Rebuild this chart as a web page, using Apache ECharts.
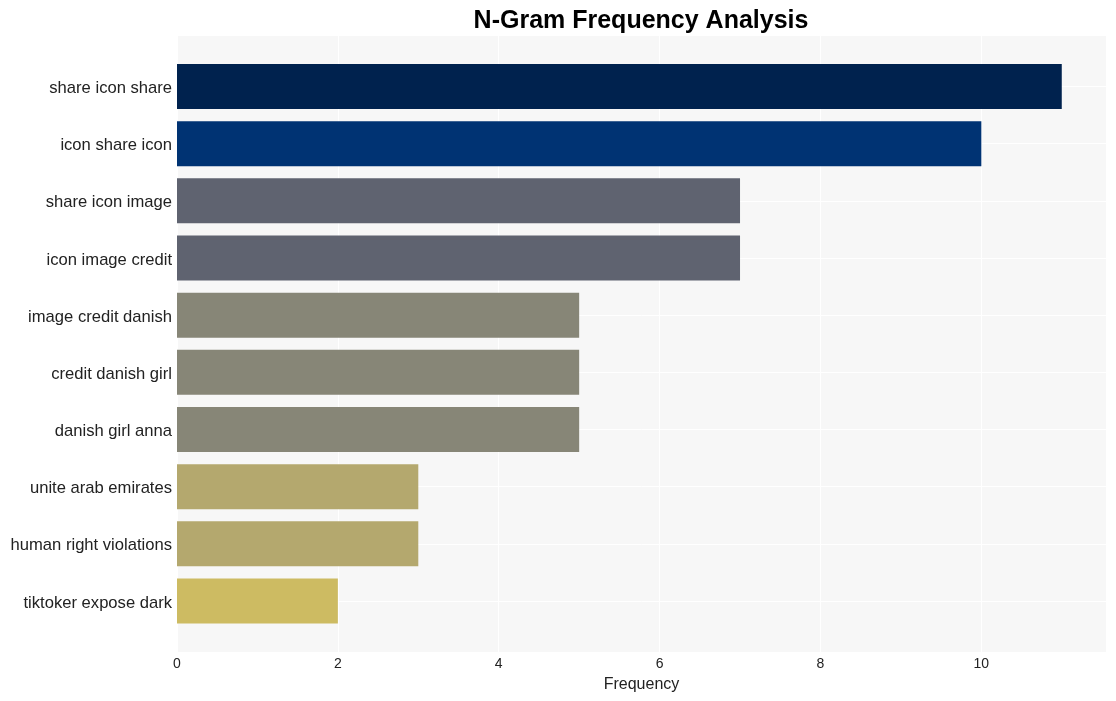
<!DOCTYPE html>
<html>
<head>
<meta charset="utf-8">
<script src="https://cdn.jsdelivr.net/npm/echarts@6/dist/echarts.min.js"></script>
<style>html,body{margin:0;padding:0;background:#fff}#c{width:1116px;height:701px}</style>
</head>
<body>
<div id="c"></div>
<script>
const categories = ["share icon share","icon share icon","share icon image","icon image credit","image credit danish","credit danish girl","danish girl anna","unite arab emirates","human right violations","tiktoker expose dark"];
const values = [11,10,7,7,5,5,5,3,3,2];
const barColors = ["#00224e","#003373","#5f6370","#5f6370","#878677","#878677","#878677","#b4a86e","#b4a86e","#cdbb62"];
const xTicks = [0,2,4,6,8,10];

const FONT = "Liberation Sans, Arial, sans-serif";
const chart = echarts.init(document.getElementById('c'));
chart.setOption({
  animation: false,
  backgroundColor: '#ffffff',
  title: {
    text: 'N-Gram Frequency Analysis',
    left: 636, top: 4, textAlign: 'center',
    textStyle: {fontFamily: FONT, fontSize: 25, fontWeight: 'bold', color: '#000'}
  },
  grid: [
    {left: 177, right: 10, top: 36, bottom: 49, show: true, backgroundColor: '#f7f7f7', borderWidth: 0},
    {left: 177, right: 10, top: 86.5, bottom: 100, show: false}
  ],
  xAxis: [
    {gridIndex: 0, type: 'value', min: 0, max: 11.55, interval: 2,
     name: 'Frequency', nameLocation: 'middle', nameGap: 25,
     nameTextStyle: {fontFamily: FONT, fontSize: 16, color: '#222'},
     axisLine: {show: false}, axisTick: {show: false},
     axisLabel: {fontFamily: FONT, fontSize: 14, color: '#222', margin: 5,
       formatter: v => xTicks.includes(v) ? String(v) : ''},
     splitLine: {show: true, lineStyle: {color: '#ffffff', width: 1}}},
    {gridIndex: 1, type: 'value', min: 0, max: 11.55, show: false}
  ],
  yAxis: [
    {gridIndex: 0, type: 'value', show: false},
    {gridIndex: 1, type: 'category', data: categories, inverse: true, boundaryGap: false,
     axisLine: {show: false}, axisTick: {show: false},
     axisLabel: {color: '#222', margin: 5,
       formatter: v => '{a|' + v + '}',
       rich: {a: {fontFamily: FONT, fontSize: 16.6, color: '#222', padding: [4, 0, 0, 0]}}},
     splitLine: {show: true, lineStyle: {color: '#ffffff', width: 1}}}
  ],
  series: [{
    type: 'bar', xAxisIndex: 1, yAxisIndex: 1, clip: false,
    barWidth: 45,
    data: values.map((v, i) => ({value: v, itemStyle: {color: barColors[i]}}))
  }]
});
</script>
</body>
</html>
